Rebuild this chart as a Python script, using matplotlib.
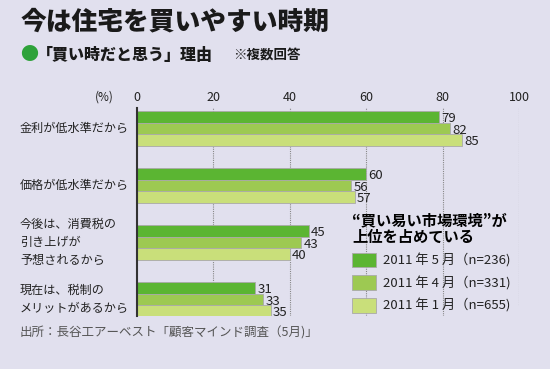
import matplotlib
matplotlib.use("Agg")
import matplotlib.pyplot as plt
from matplotlib.patches import Patch
import numpy as np

plt.rcParams['font.family'] = ['Noto Sans CJK JP', 'DejaVu Sans']

categories = ["金利が低水準だから", "価格が低水準だから",
              "今後は、消費税の\n引き上げが\n予想されるから",
              "現在は、税制の\nメリットがあるから"]
series_names = ["2011 年 5 月（n=236)", "2011 年 4 月（n=331)", "2011 年 1 月（n=655)"]
may_2011 = [79, 60, 45, 31]
apr_2011 = [82, 56, 43, 33]
jan_2011 = [85, 57, 40, 35]
xticks = [0, 20, 40, 60, 80, 100]

colors = ["#5bb532", "#9dc952", "#c9df7a"]
bg = "#e1e0ee"

fig = plt.figure(figsize=(5.5, 3.69), dpi=100, facecolor=bg)
ax = fig.add_axes([137/550, (369-316)/369, (519-137)/550, 208/369])
ax.set_facecolor(bg)

bh = 0.205
y = np.arange(len(categories))
for i, (vals, c) in enumerate(zip([may_2011, apr_2011, jan_2011], colors)):
    pos = y + (i - 1) * bh
    ax.barh(pos, vals, height=bh, color=c, edgecolor="#a9a9a9", linewidth=0.6, zorder=3)
    for p, v in zip(pos, vals):
        ax.text(v + 0.6, p + 0.03, str(v), va="center", ha="left", fontsize=9.5,
                color="#222222", zorder=4)

ax.set_xlim(0, 100)
ax.set_ylim(3.29, -0.36)
for t in xticks[1:-1]:
    ax.axvline(t, color="#888888", linestyle=(0, (1, 1)), linewidth=0.8, zorder=1)
ax.vlines(100, -0.36, 3.1, color="#888888", linestyle=(0, (1, 1)), linewidth=0.8, zorder=1)

for s in ["top", "right", "bottom"]:
    ax.spines[s].set_visible(False)
ax.spines["left"].set_color("#333333")
ax.spines["left"].set_linewidth(1.5)
ax.spines["left"].set_zorder(5)

ax.xaxis.tick_top()
ax.set_xticks(xticks)
ax.set_xticklabels([str(t) for t in xticks], fontsize=9, color="#222222")
ax.tick_params(axis="x", length=0, pad=3)
ax.set_yticks([])

fig.text(95/550, 1 - 97/369, "(%)", fontsize=8.5, va="center", ha="left", color="#222222")

for yi, lab in zip(y, categories):
    ax.text(-117/382*100, yi, lab, ha="left", va="center", fontsize=8.7,
            color="#222222", linespacing=1.5, clip_on=False)

# title
fig.text(21/550, 1 - 21/369, "今は住宅を買いやすい時期", fontsize=18.5, fontweight="heavy",
         va="center", ha="left", color="#1a1a1a")
fig.text(20/550, 1 - 55/369, "●", fontsize=13, color="#2ea23a", va="center", ha="left")
fig.text(37/550, 1 - 55/369, "「買い時だと思う」理由", fontsize=11.5, fontweight="heavy",
         va="center", ha="left", color="#1a1a1a")
fig.text(233/550, 1 - 55/369, "※複数回答", fontsize=9.7, fontweight="bold",
         va="center", ha="left", color="#1a1a1a")

# footer
fig.text(20/550, 1 - 333/369, "出所：長谷工アーベスト「顧客マインド調査（5月)」", fontsize=9,
         va="center", ha="left", color="#555555")

handles = [Patch(facecolor=c, edgecolor="#a9a9a9", linewidth=0.6) for c in colors]
leg = ax.legend(handles, series_names, loc="upper left",
                bbox_to_anchor=(340/550, 1 - 200/369), bbox_transform=fig.transFigure,
                frameon=False, fontsize=9.5, handlelength=1.8, handleheight=1.3,
                labelspacing=0.62, handletextpad=0.55,
                title="“買い易い市場環境”が\n上位を占めている",
                title_fontproperties={"size": 11, "weight": "bold",
                                      "family": ["Noto Sans CJK JP", "DejaVu Sans"]})
leg._legend_box.align = "left"
leg.get_title().set_linespacing(1.05)
for t in leg.get_texts():
    t.set_color("#222222")

fig.savefig("out.png", dpi=100, facecolor=bg)
